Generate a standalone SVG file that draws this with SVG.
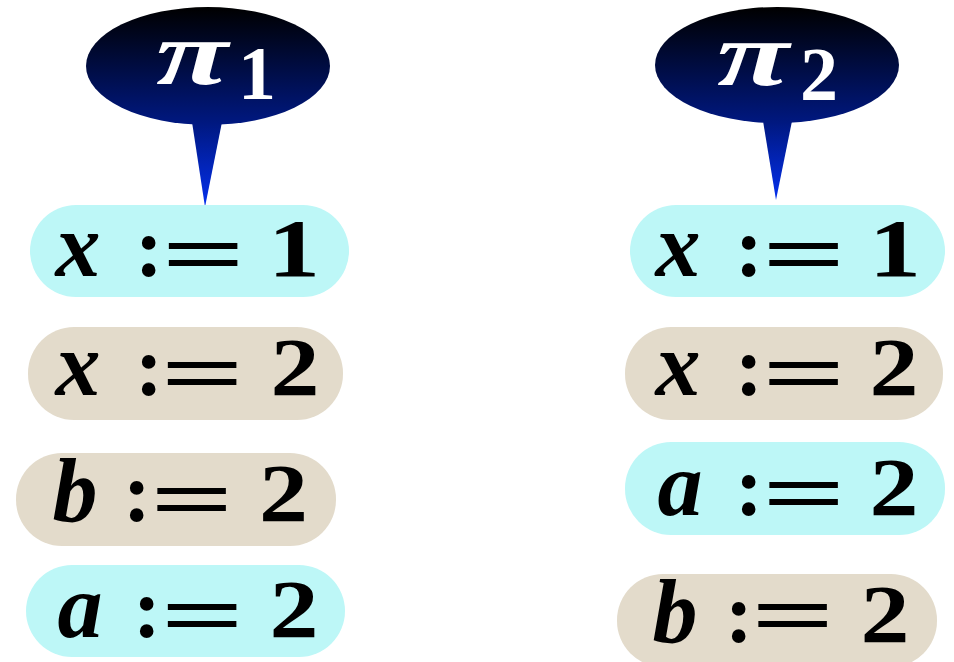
<svg xmlns="http://www.w3.org/2000/svg" width="954" height="662" viewBox="0 0 954 662">
<defs>
<linearGradient id="gL" gradientUnits="userSpaceOnUse" x1="0" y1="7" x2="0" y2="207">
<stop offset="0" stop-color="#000000"/>
<stop offset="0.58" stop-color="#001880"/>
<stop offset="1" stop-color="#0430ee"/>
</linearGradient>
<linearGradient id="gR" gradientUnits="userSpaceOnUse" x1="0" y1="7" x2="0" y2="200">
<stop offset="0" stop-color="#000000"/>
<stop offset="0.6" stop-color="#001880"/>
<stop offset="1" stop-color="#0430ee"/>
</linearGradient>
</defs>
<style>
.cy{fill:#bdf7f7}
.tn{fill:#e3dbcb}
text{font-family:"Liberation Serif","Times New Roman",serif;font-weight:bold;fill:#000;text-anchor:middle}
.v{font-style:italic;font-size:90px}
.o{font-size:84px}
.d{font-size:82px}
.pi{font-style:italic;font-size:92px;fill:#fff}
.sub{font-size:76px;fill:#fff}
</style>
<g id="balloon1">
<ellipse cx="208" cy="66" rx="122" ry="59" fill="url(#gL)"/>
<polygon points="192,122 222,122 205,207" fill="url(#gL)"/>
<text class="pi" x="192" y="84" textLength="72" lengthAdjust="spacingAndGlyphs">π</text>
<text class="sub" x="257" y="99">1</text>
</g>
<g id="balloon2">
<ellipse cx="777" cy="65" rx="122" ry="58" fill="url(#gR)"/>
<polygon points="763,121 792,121 776,200" fill="url(#gR)"/>
<text class="pi" x="753" y="85" textLength="72" lengthAdjust="spacingAndGlyphs">π</text>
<text class="sub" x="819" y="100">2</text>
</g>
<g id="L1">
<rect class="cy" x="30" y="205" width="319" height="92" rx="46"/>
<text class="v" x="78" y="276">x</text>
<text class="o" x="149" y="276">:</text>
<text class="o" x="203.5" y="283" textLength="84" lengthAdjust="spacingAndGlyphs">=</text>
<text class="d" x="294" y="276" textLength="52" lengthAdjust="spacingAndGlyphs">1</text>
</g>
<g id="L2">
<rect class="tn" x="28" y="327" width="315" height="93" rx="46"/>
<text class="v" x="78" y="395">x</text>
<text class="o" x="149" y="395">:</text>
<text class="o" x="202.5" y="402" textLength="84" lengthAdjust="spacingAndGlyphs">=</text>
<text class="d" x="295" y="395" textLength="49" lengthAdjust="spacingAndGlyphs">2</text>
</g>
<g id="L3">
<rect class="tn" x="16" y="453" width="320" height="93" rx="46"/>
<text class="v" x="75" y="521">b</text>
<text class="o" x="137" y="521">:</text>
<text class="o" x="192" y="528" textLength="84" lengthAdjust="spacingAndGlyphs">=</text>
<text class="d" x="283.5" y="521" textLength="49" lengthAdjust="spacingAndGlyphs">2</text>
</g>
<g id="L4">
<rect class="cy" x="26" y="565" width="319" height="92" rx="46"/>
<text class="v" x="80" y="637">a</text>
<text class="o" x="147" y="637">:</text>
<text class="o" x="202.5" y="644" textLength="84" lengthAdjust="spacingAndGlyphs">=</text>
<text class="d" x="294" y="637" textLength="49" lengthAdjust="spacingAndGlyphs">2</text>
</g>
<g id="R1">
<rect class="cy" x="630" y="205" width="315" height="92" rx="46"/>
<text class="v" x="678" y="276">x</text>
<text class="o" x="749" y="276">:</text>
<text class="o" x="804" y="283" textLength="84" lengthAdjust="spacingAndGlyphs">=</text>
<text class="d" x="895" y="276" textLength="52" lengthAdjust="spacingAndGlyphs">1</text>
</g>
<g id="R2">
<rect class="tn" x="625" y="327" width="318" height="93" rx="46"/>
<text class="v" x="678" y="395">x</text>
<text class="o" x="749" y="395">:</text>
<text class="o" x="804" y="402" textLength="84" lengthAdjust="spacingAndGlyphs">=</text>
<text class="d" x="894" y="395" textLength="49" lengthAdjust="spacingAndGlyphs">2</text>
</g>
<g id="R3">
<rect class="cy" x="625" y="442" width="320" height="93" rx="46"/>
<text class="v" x="680" y="515">a</text>
<text class="o" x="749" y="515">:</text>
<text class="o" x="804" y="522" textLength="84" lengthAdjust="spacingAndGlyphs">=</text>
<text class="d" x="894" y="515" textLength="49" lengthAdjust="spacingAndGlyphs">2</text>
</g>
<g id="R4">
<rect class="tn" x="617" y="574" width="320" height="93" rx="46"/>
<text class="v" x="675" y="642">b</text>
<text class="o" x="739" y="642">:</text>
<text class="o" x="793" y="644" textLength="84" lengthAdjust="spacingAndGlyphs">=</text>
<text class="d" x="885" y="642" textLength="49" lengthAdjust="spacingAndGlyphs">2</text>
</g>
<g id="connectors"/>
</svg>
